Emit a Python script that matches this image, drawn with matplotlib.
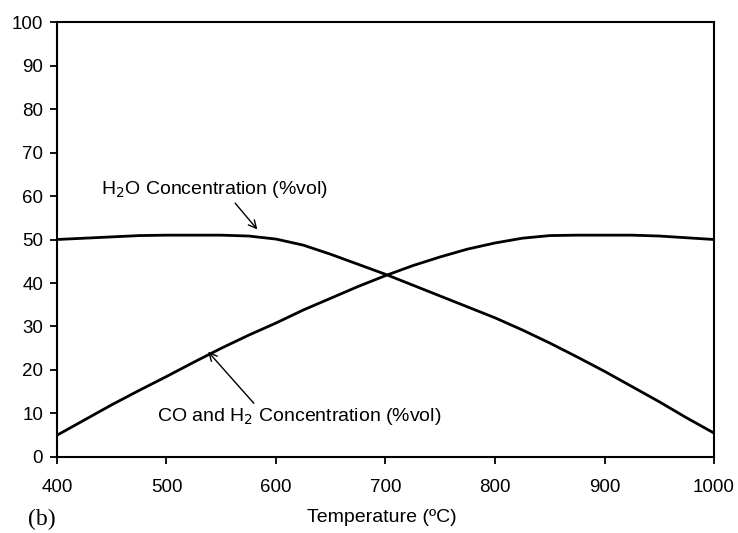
import matplotlib.pyplot as plt

plt.rcParams['font.family'] = ['Liberation Sans', 'DejaVu Sans']

temperature = [400, 425, 450, 475, 500, 525, 550, 575, 600, 625, 650, 675, 700,
               725, 750, 775, 800, 825, 850, 875, 900, 925, 950, 975, 1000]
h2o_conc = [50.0, 50.3, 50.6, 50.9, 51.0, 51.0, 51.0, 50.8, 50.1, 48.7, 46.6, 44.3, 42.0,
            39.5, 37.0, 34.5, 32.0, 29.2, 26.2, 23.0, 19.7, 16.2, 12.7, 9.0, 5.5]
co_h2_conc = [5.0, 8.5, 12.0, 15.3, 18.5, 21.8, 25.0, 28.0, 30.8, 33.8, 36.5, 39.2, 41.7,
              44.0, 46.0, 47.8, 49.2, 50.3, 50.9, 51.0, 51.0, 51.0, 50.8, 50.4, 50.0]

x_ticks = [400, 500, 600, 700, 800, 900, 1000]
y_ticks = [0, 10, 20, 30, 40, 50, 60, 70, 80, 90, 100]

fig = plt.figure(figsize=(7.38, 5.33), dpi=100)
ax = fig.add_axes([0.0772, 0.1426, 0.8903, 0.8161])

ax.plot(temperature, h2o_conc, color='black', lw=2)
ax.plot(temperature, co_h2_conc, color='black', lw=2)

ax.set_xlim(400, 1000)
ax.set_ylim(0, 100)
ax.set_xticks(x_ticks)
ax.set_yticks(y_ticks)
ax.tick_params(axis='both', direction='out', length=5, width=1.3, labelsize=13.5)
ax.tick_params(axis='x', pad=11)
ax.tick_params(axis='y', pad=5)
for s in ax.spines.values():
    s.set_linewidth(1.5)

# labels with arrows pointing at the curves
ax.annotate('H$_2$O Concentration (%vol)', xy=(583, 52.3), xytext=(544, 61.4),
            fontsize=14, ha='center', va='center',
            arrowprops=dict(arrowstyle='->', lw=1, color='black', shrinkA=0, shrinkB=0,
                            relpos=(0.58, 0.0)))
ax.annotate('CO and H$_2$ Concentration (%vol)', xy=(538, 24.2), xytext=(621, 9.3),
            fontsize=14, ha='center', va='center',
            arrowprops=dict(arrowstyle='->', lw=1, color='black', shrinkA=0, shrinkB=0,
                            relpos=(0.35, 1.0)))

ax.set_xlabel('Temperature (ºC)', fontsize=14, va='center')
ax.xaxis.set_label_coords(0.494, -0.138)
fig.text(0.038, 0.006, '(b)', family='Liberation Serif', fontsize=17, va='bottom')

fig.savefig('out.png', dpi=100)
